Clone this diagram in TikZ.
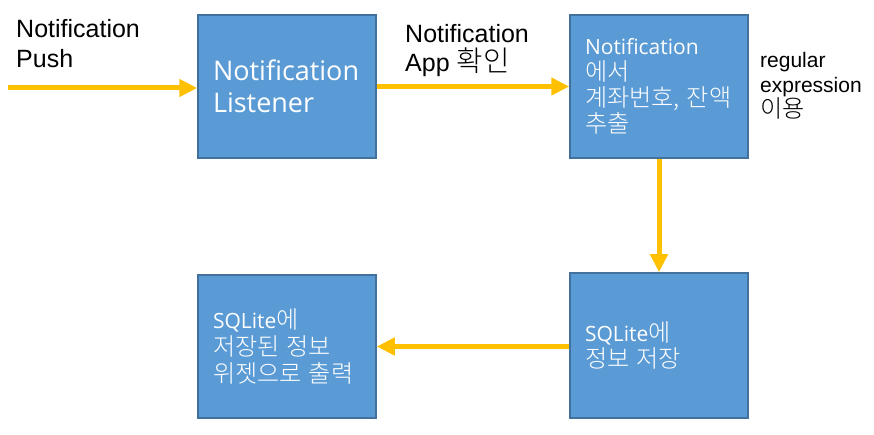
\documentclass[tikz,border=0pt]{standalone}
\usepackage{fontspec}
\setmainfont{Liberation Sans}
\newfontfamily\krfont[Scale=1.15]{Noto Sans CJK KR Light}
\newfontfamily\boxfont{Open Sans}
\usetikzlibrary{arrows.meta}
\definecolor{boxblue}{HTML}{5B9BD5}
\definecolor{boxline}{HTML}{41719C}
\definecolor{seta}{HTML}{FFC000}
\begin{document}
\begin{tikzpicture}[
		x=1pt, y=-1pt,
		caixa/.style={
			draw=boxline,
			fill=boxblue,
			rectangle,
			text width=148pt,
			inner xsep=15pt,
			minimum height=143pt,
			align=left,
			line width=1.5pt,
			text=white,
			font=\boxfont
		},
		rotulo/.style={
			inner sep=0pt,
			anchor=west,
			align=left
		},
		fluxo/.style={
			draw=seta,
			line width=5pt,
			-{Triangle[length=18pt,width=17pt]}
		}
		]
		
		\useasboundingbox (0,0) rectangle (874,435);
		
		\node[caixa, font=\boxfont\fontsize{27}{32}\selectfont] (listener) at (287,86.5) {Notification\\Listener};
		\node[caixa, font=\boxfont\fontsize{21}{26}\selectfont] (extrai) at (659,86.5) {Notification\\{\krfont 에서}\\{\krfont 계좌번호, 잔액}\\{\krfont 추출}};
		\node[caixa, font=\boxfont\fontsize{21}{26}\selectfont, minimum height=145pt] (salva) at (659,345.5) {SQLite{\krfont 에}\\{\krfont 정보 저장}};
		\node[caixa, font=\boxfont\fontsize{21}{27}\selectfont] (widget) at (287,346.5) {SQLite{\krfont 에}\\{\krfont 저장된 정보}\\{\krfont 위젯으로 출력}};
		
		\node[rotulo, font=\fontsize{25}{30}\selectfont] (push) at (16,44) {Notification\\Push};
		\node[rotulo, font=\fontsize{25}{29}\selectfont] (app) at (405,51) {Notification\\App {\krfont 확인}};
		\node[rotulo, font=\fontsize{21}{25}\selectfont] (regex) at (760,86) {regular\\expression\\{\krfont 이용}};
		
		\coordinate (entrada) at (8,88);
		
		%Setas
		\draw[fluxo] (entrada) -- (entrada -| listener.west);
		\draw[fluxo] (listener.east) -- (extrai.west);
		\draw[fluxo] (extrai.south) -- (salva.north);
		\draw[fluxo] (salva.west |- widget.east) -- (widget.east);
		
	\end{tikzpicture}
\end{document}
